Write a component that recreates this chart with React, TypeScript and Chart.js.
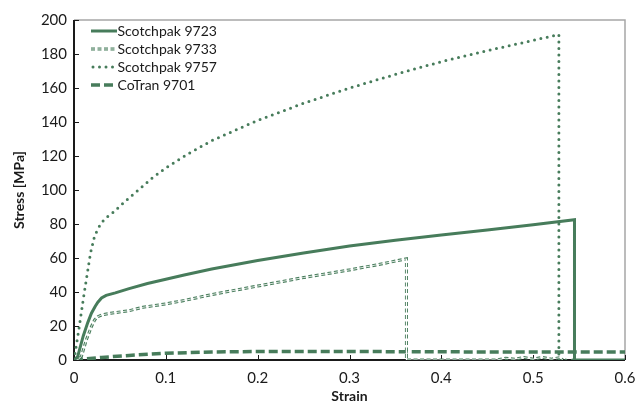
import React, { useEffect, useRef } from "react";
import { Chart, registerables } from "chart.js";

Chart.register(...registerables);

const GREEN = "#477c5b";
const FONT = "Lato, 'Open Sans', sans-serif";

// Tick values
const xTicks = [0, 0.1, 0.2, 0.3, 0.4, 0.5, 0.6];
const yTicks = [0, 20, 40, 60, 80, 100, 120, 140, 160, 180, 200];

// Series labels
const seriesNames = ["Scotchpak 9723", "Scotchpak 9733", "Scotchpak 9757", "CoTran 9701"];

// Scotchpak 9723
const s9723Strain = [0, 0.004, 0.01, 0.015, 0.019, 0.023, 0.026, 0.03, 0.035, 0.045, 0.06, 0.08, 0.1, 0.12, 0.15, 0.2, 0.25, 0.3, 0.35, 0.4, 0.45, 0.5, 0.545, 0.545, 0.6];
const s9723Stress = [0, 2, 14, 22, 27.5, 31.5, 34, 36.5, 38, 39.5, 42, 45, 47.5, 50, 53.5, 58.5, 63, 67, 70.5, 73.5, 76.5, 79.5, 82.5, 0, 0];

// Scotchpak 9733
const s9733Strain = [0, 0.005, 0.008, 0.0134, 0.019, 0.0225, 0.026, 0.03, 0.04, 0.06, 0.075, 0.1, 0.12, 0.15, 0.2, 0.25, 0.3, 0.33, 0.362, 0.362, 0.46, 0.47, 0.48, 0.49, 0.5, 0.51, 0.52, 0.53, 0.532];
const s9733Stress = [0, 0.5, 2, 11.8, 19.7, 23.6, 25.5, 26.5, 27.5, 29, 31, 33, 35, 38.5, 43.5, 48.5, 53, 56, 59.5, 0, 0, 1, 0.5, 1.5, 0.5, 1.5, 0.5, 1.5, 0];

// Scotchpak 9757
const s9757Strain = [0, 0.005, 0.011, 0.018, 0.022, 0.025, 0.028, 0.032, 0.037, 0.043, 0.05, 0.056, 0.07, 0.085, 0.1, 0.125, 0.15, 0.2, 0.25, 0.3, 0.35, 0.4, 0.45, 0.5, 0.528, 0.528, 0.545];
const s9757Stress = [0, 17, 39, 63, 72, 76, 79, 82, 84.5, 87, 90.5, 93.5, 100, 107, 113, 121.5, 129, 141, 151, 160, 168, 175.5, 182, 188, 191.5, 0, 0];

// CoTran 9701
const c9701Strain = [0, 0.01, 0.03, 0.06, 0.1, 0.15, 0.2, 0.3, 0.4, 0.5, 0.6];
const c9701Stress = [0, 0.5, 1.5, 2.7, 4.0, 4.7, 5.0, 5.0, 4.8, 4.7, 4.7];

const pts = (xs: number[], ys: number[]) => xs.map((x, i) => ({ x, y: ys[i] }));

type Style = "solid" | "double" | "dots" | "dash";
const styles: Style[] = ["solid", "double", "dots", "dash"];

function strokeSample(ctx: CanvasRenderingContext2D, style: Style, x1: number, x2: number, y: number) {
  ctx.save();
  ctx.strokeStyle = GREEN;
  ctx.beginPath();
  ctx.moveTo(x1, y);
  ctx.lineTo(x2, y);
  if (style === "solid") {
    ctx.lineWidth = 3;
    ctx.setLineDash([]);
    ctx.stroke();
  } else if (style === "double") {
    ctx.lineWidth = 3;
    ctx.setLineDash([4, 2.5]);
    ctx.stroke();
    ctx.setLineDash([]);
    ctx.strokeStyle = "#ffffff";
    ctx.lineWidth = 0.8;
    ctx.stroke();
  } else if (style === "dots") {
    ctx.lineWidth = 3;
    ctx.lineCap = "round";
    ctx.setLineDash([0, 6.5]);
    ctx.beginPath();
    ctx.moveTo(x1 + 2, y);
    ctx.lineTo(x2, y);
    ctx.stroke();
  } else {
    ctx.lineWidth = 3.5;
    ctx.setLineDash([9, 4]);
    ctx.stroke();
  }
  ctx.restore();
}

const framePlugin = {
  id: "frame",
  beforeDatasetsDraw(chart: any) {
    const { ctx, chartArea } = chart;
    const { left, right, top, bottom } = chartArea;
    ctx.save();
    ctx.strokeStyle = "#a6a6a6";
    ctx.lineWidth = 1.5;
    ctx.beginPath();
    ctx.moveTo(left, top);
    ctx.lineTo(right, top);
    ctx.lineTo(right, bottom);
    ctx.stroke();
    ctx.strokeStyle = "#1a1a1a";
    ctx.lineWidth = 2;
    ctx.beginPath();
    ctx.moveTo(left, top);
    ctx.lineTo(left, bottom);
    ctx.lineTo(right, bottom);
    ctx.stroke();
    ctx.lineWidth = 1;
    const xs = chart.scales.x;
    const ys = chart.scales.y;
    ctx.beginPath();
    xTicks.forEach((v) => {
      const px = Math.round(xs.getPixelForValue(v)) + 0.5;
      ctx.moveTo(px, bottom);
      ctx.lineTo(px, bottom - 5);
    });
    yTicks.forEach((v) => {
      const py = Math.round(ys.getPixelForValue(v)) + 0.5;
      ctx.moveTo(left, py);
      ctx.lineTo(left + 5, py);
    });
    ctx.stroke();
    ctx.restore();
  },
  afterDraw(chart: any) {
    const { ctx } = chart;
    ctx.save();
    ctx.font = `14px ${FONT}`;
    ctx.fillStyle = "#1a1a1a";
    ctx.textBaseline = "middle";
    ctx.textAlign = "left";
    seriesNames.forEach((name, i) => {
      const y = 31 + 18 * i;
      strokeSample(ctx, styles[i], 91, 117, y);
      ctx.fillText(name, 117.5, y + 0.5);
    });
    ctx.restore();
  },
};

export default function App() {
  const ref = useRef<HTMLCanvasElement | null>(null);
  useEffect(() => {
    if (!ref.current) return;
    const chart = new Chart(ref.current, {
      type: "scatter",
      data: {
        datasets: [
          {
            label: seriesNames[0],
            data: pts(s9723Strain, s9723Stress),
            showLine: true,
            borderColor: GREEN,
            borderWidth: 3,
            pointRadius: 0,
            tension: 0,
            order: 1,
          },
          {
            label: "9733-inner",
            data: pts(s9733Strain, s9733Stress),
            showLine: true,
            borderColor: "#ffffff",
            borderWidth: 0.8,
            pointRadius: 0,
            tension: 0,
            order: 2,
          },
          {
            label: seriesNames[1],
            data: pts(s9733Strain, s9733Stress),
            showLine: true,
            borderColor: GREEN,
            borderWidth: 3,
            borderDash: [4, 2.5],
            pointRadius: 0,
            tension: 0,
            order: 3,
          },
          {
            label: seriesNames[2],
            data: pts(s9757Strain, s9757Stress),
            showLine: true,
            borderColor: GREEN,
            borderWidth: 3,
            borderDash: [0, 6.5],
            borderCapStyle: "round",
            pointRadius: 0,
            tension: 0,
            order: 4,
          },
          {
            label: seriesNames[3],
            data: pts(c9701Strain, c9701Stress),
            showLine: true,
            borderColor: GREEN,
            borderWidth: 3.5,
            borderDash: [9, 4],
            pointRadius: 0,
            tension: 0,
            order: 5,
          },
        ],
      },
      options: {
        responsive: false,
        animation: false,
        devicePixelRatio: 1,
        layout: { padding: { left: 0, right: 13, top: 20, bottom: 0 } },
        plugins: {
          legend: { display: false },
          tooltip: { enabled: false },
        },
        scales: {
          x: {
            type: "linear",
            min: 0,
            max: 0.6,
            afterFit: (s: any) => {
              s.height = 48;
              s.paddingLeft = 0;
              s.paddingRight = 0;
            },
            afterBuildTicks: (s: any) => {
              s.ticks = xTicks.map((v) => ({ value: v }));
            },
            grid: { display: false, drawTicks: false },
            border: { display: false },
            ticks: {
              padding: 9,
              color: "#1a1a1a",
              font: { family: FONT, size: 15 },
              callback: (v: any) => String(Number(Number(v).toFixed(1))),
            },
            title: {
              display: true,
              text: "Strain",
              color: "#1a1a1a",
              font: { family: FONT, size: 14, weight: "bold" },
              padding: { top: 0, bottom: 3 },
            },
          },
          y: {
            type: "linear",
            min: 0,
            max: 200,
            afterFit: (s: any) => {
              s.width = 74;
              s.paddingTop = 0;
              s.paddingBottom = 0;
            },
            afterBuildTicks: (s: any) => {
              s.ticks = yTicks.map((v) => ({ value: v }));
            },
            grid: { display: false, drawTicks: false },
            border: { display: false },
            ticks: {
              padding: 7,
              color: "#1a1a1a",
              font: { family: FONT, size: 15 },
            },
            title: {
              display: true,
              text: "Stress [MPa]",
              color: "#1a1a1a",
              font: { family: FONT, size: 14, weight: "bold" },
              padding: { top: 11, bottom: 0 },
            },
          },
        },
      },
      plugins: [framePlugin],
    } as any);
    return () => chart.destroy();
  }, []);
  return (
    <div style={{ position: "fixed", left: 0, top: 0, width: 638, height: 408, background: "#fff" }}>
      <canvas ref={ref} width={638} height={408} style={{ display: "block", width: 638, height: 408 }} />
    </div>
  );
}
